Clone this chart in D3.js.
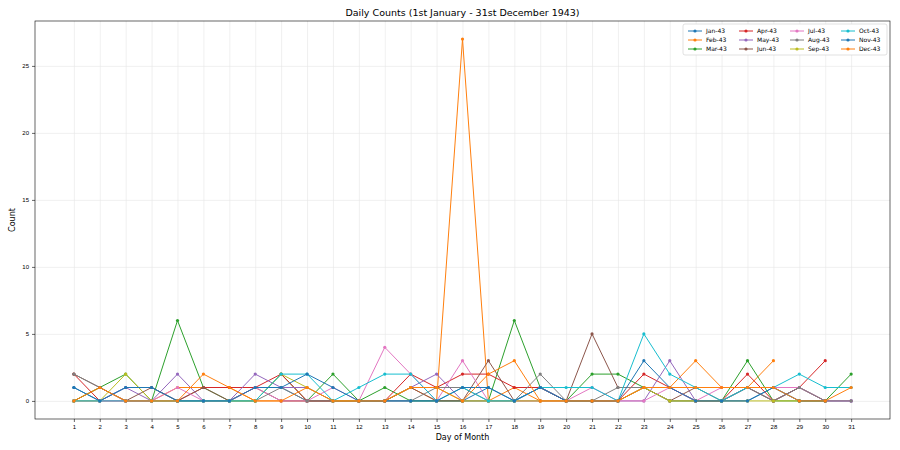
<!DOCTYPE html>
<html>
<head>
<meta charset="utf-8">
<script src="https://cdn.jsdelivr.net/npm/d3@7"></script>
<style>
  body { margin: 0; background: #fff; font-family: "DejaVu Sans", sans-serif; }
  .grid line { stroke: #e6e6e6; stroke-width: 0.6; }
  .grid path { display: none; }
  .axis text { font-size: 6px; fill: #000; }
  .axis path { display: none; }
  .axis line { stroke: #000; stroke-width: 0.6; }
</style>
</head>
<body>
<div id="chart"></div>
<script>
// Month names and their colours (matplotlib tab10 cycle)
var months = ["Jan-43", "Feb-43", "Mar-43", "Apr-43", "May-43", "Jun-43",
              "Jul-43", "Aug-43", "Sep-43", "Oct-43", "Nov-43", "Dec-43"];
var colors = ["#1f77b4", "#ff7f0e", "#2ca02c", "#d62728", "#9467bd", "#8c564b",
              "#e377c2", "#7f7f7f", "#bcbd22", "#17becf", "#1f77b4", "#ff7f0e"];

// daily counts, one array per month (index 0 = day 1)
var jan43 = [1,0,1,1,0,0,0,1,1,0,0,0,0,0,0,0,1,0,1,0,0,0,1,1,0,0,0,1,0,0,0];
var feb43 = [0,1,0,0,1,1,1,0,0,0,0,0,0,1,0,27,0,1,0,0,0,0,1,1,3,1,1,3];
var mar43 = [0,1,2,0,6,1,0,0,2,0,2,0,1,0,0,0,0,6,1,0,2,2,1,0,0,0,3,0,0,0,2];
var apr43 = [2,0,0,0,0,1,1,1,2,0,0,0,0,2,1,2,2,1,1,0,0,0,2,1,0,0,2,0,1,3];
var may43 = [0,0,1,0,2,0,0,2,1,1,0,0,0,1,2,0,0,0,1,0,0,0,0,3,0,0,1,0,1,0,0];
var jun43 = [2,1,0,1,0,1,0,1,0,0,0,0,0,1,0,0,3,0,0,0,5,1,1,0,1,0,1,0,1,0];
var jul43 = [0,0,0,0,1,0,0,1,0,0,1,0,4,2,0,3,0,0,0,0,1,0,0,1,0,1,1,1,1,0,0];
var aug43 = [2,1,0,0,0,0,0,0,1,0,0,0,0,0,1,1,0,0,2,0,0,1,1,0,0,0,1,0,1,0,0];
var sep43 = [0,0,2,0,0,0,0,0,2,1,0,0,0,1,1,0,0,0,0,0,0,0,1,0,0,0,0,0,0,0];
var oct43 = [0,0,0,0,0,0,0,0,2,2,0,1,2,2,0,1,0,0,1,1,1,0,5,2,1,0,1,1,2,1,1];
var nov43 = [1,0,1,1,0,0,0,1,1,2,1,0,0,0,0,1,1,0,1,0,0,0,3,1,0,0,0,1,0,0];
var dec43 = [0,1,0,0,0,2,1,0,0,1,0,0,0,1,1,0,2,3,0,0,0,0,1,1,1,1,1,1,0,0,1];

var series = [jan43, feb43, mar43, apr43, may43, jun43,
              jul43, aug43, sep43, oct43, nov43, dec43];
var dayTicks = d3.range(1, 32);
var countTicks = [0, 5, 10, 15, 20, 25];

var width = 900, height = 450;
var margin = { top: 21, right: 10, bottom: 31, left: 35 };
var w = width - margin.left - margin.right;
var h = height - margin.top - margin.bottom;

var svg = d3.select("#chart").append("svg")
    .attr("width", width)
    .attr("height", height);

var g = svg.append("g")
    .attr("transform", "translate(" + margin.left + "," + margin.top + ")");

var x = d3.scaleLinear().domain([-0.5, 32.5]).range([0, w]);
var y = d3.scaleLinear().domain([-1.35, 28.35]).range([h, 0]);

// grid lines
g.append("g").attr("class", "grid")
    .attr("transform", "translate(0," + h + ")")
    .call(d3.axisBottom(x).tickValues(dayTicks).tickSize(-h).tickFormat(""));
g.append("g").attr("class", "grid")
    .call(d3.axisLeft(y).tickValues(countTicks).tickSize(-w).tickFormat(""));

// axes
g.append("g").attr("class", "axis")
    .attr("transform", "translate(0," + h + ")")
    .call(d3.axisBottom(x).tickValues(dayTicks).tickSize(3).tickSizeOuter(0)
        .tickFormat(d3.format("d")));
g.append("g").attr("class", "axis")
    .call(d3.axisLeft(y).tickValues(countTicks).tickSize(3).tickSizeOuter(0)
        .tickFormat(d3.format("d")));

// frame
g.append("rect")
    .attr("width", w).attr("height", h)
    .attr("fill", "none").attr("stroke", "#000").attr("stroke-width", 0.6);

// lines
var line = d3.line()
    .x(function (d, i) { return x(i + 1); })
    .y(function (d) { return y(d); });

series.forEach(function (vals, k) {
    g.append("path")
        .datum(vals)
        .attr("fill", "none")
        .attr("stroke", colors[k])
        .attr("stroke-width", 1)
        .attr("d", line);
    g.selectAll(".pt" + k)
        .data(vals)
        .enter().append("circle")
        .attr("cx", function (d, i) { return x(i + 1); })
        .attr("cy", function (d) { return y(d); })
        .attr("r", 1.6)
        .attr("fill", colors[k]);
});

// title and labels
svg.append("text")
    .attr("x", margin.left + w / 2).attr("y", 16)
    .attr("text-anchor", "middle")
    .style("font-size", "9.5px")
    .text("Daily Counts (1st January - 31st December 1943)");

svg.append("text")
    .attr("x", margin.left + w / 2).attr("y", 440)
    .attr("text-anchor", "middle")
    .style("font-size", "8px")
    .text("Day of Month");

svg.append("text")
    .attr("transform", "rotate(-90)")
    .attr("x", -(margin.top + h / 2)).attr("y", 15)
    .attr("text-anchor", "middle")
    .style("font-size", "8px")
    .text("Count");

// legend: 4 columns x 3 rows
var legend = g.append("g")
    .attr("transform", "translate(" + (w - 207) + ",3)");
legend.append("rect")
    .attr("width", 204).attr("height", 31)
    .attr("rx", 2)
    .attr("fill", "#fff").attr("stroke", "#ccc").attr("stroke-width", 0.6);

months.forEach(function (m, k) {
    var col = Math.floor(k / 3), row = k % 3;
    var item = legend.append("g")
        .attr("transform", "translate(" + (5 + col * 51) + "," + (7 + row * 9) + ")");
    item.append("line")
        .attr("x1", 0).attr("x2", 14)
        .attr("stroke", colors[k]).attr("stroke-width", 1);
    item.append("circle")
        .attr("cx", 7).attr("r", 1.6).attr("fill", colors[k]);
    item.append("text")
        .attr("x", 18).attr("dy", "0.35em")
        .style("font-size", "6px")
        .text(m);
});
</script>
</body>
</html>
